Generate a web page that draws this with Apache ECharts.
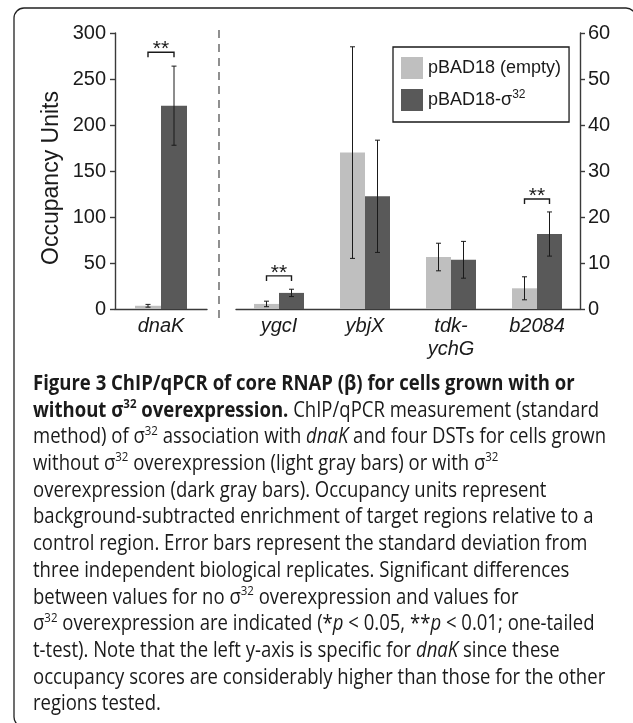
<!DOCTYPE html>
<html><head><meta charset="utf-8">
<script src="https://cdn.jsdelivr.net/npm/echarts@6/dist/echarts.min.js"></script>
<style>html,body{margin:0;padding:0;background:#fff}#c{width:633px;height:723px}</style>
</head><body><div id="c"></div>
<script>
// ---------- data ----------
const leftCategories = ['dnaK'];
const rightCategories = ['ygcI', 'ybjX', 'tdk-\nychG', 'b2084'];
const seriesNames = ['pBAD18 (empty)', 'pBAD18-σ32'];
const emptyLeft = [3.5];
const emptyLeftErr = [1.5];
const sigmaLeft = [221];
const sigmaLeftErr = [43];
const emptyRight = [1.1, 34, 11.3, 4.5];
const emptyRightErr = [0.6, 23, 3, 2.5];
const sigmaRight = [3.5, 24.5, 10.7, 16.3];
const sigmaRightErr = [0.8, 12.2, 4, 4.8];
const leftTicks = [0, 50, 100, 150, 200, 250, 300];
const rightTicks = [0, 10, 20, 30, 40, 50, 60];
const sigLeft = [[0, 279, '**']];
const sigRight = [[0, 7.2, '**'], [3, 23.9, '**']];
const captionLines = [
  '{b|Figure 3 ChIP/qPCR of core RNAP (β) for cells grown with or}',
  '{b|without σ}{bs|32}{b| overexpression.} ChIP/qPCR measurement (standard',
  'method) of σ{s|32} association with {i|dnaK} and four DSTs for cells grown',
  'without σ{s|32} overexpression (light gray bars) or with σ{s|32}',
  'overexpression (dark gray bars). Occupancy units represent',
  'background-subtracted enrichment of target regions relative to a',
  'control region. Error bars represent the standard deviation from',
  'three independent biological replicates. Significant differences',
  'between values for no σ{s|32} overexpression and values for',
  'σ{s|32} overexpression are indicated (*{i|p} < 0.05, **{i|p} < 0.01; one-tailed',
  't-test). Note that the left y-axis is specific for {i|dnaK} since these',
  'occupancy scores are considerably higher than those for the other',
  'regions tested.'
];

// ---------- styling ----------
const LIGHT = '#bfbfbf', DARK = '#595959', INK = '#1a1a1a', AXIS = '#3a3a3a';
const AX_FONT = '"Liberation Sans", Arial, sans-serif';
const CAP_FONT = '"Open Sans", "Noto Sans", sans-serif';
const CAP_SIZE = 21, SUP_SIZE = 13;
const BW_L = 26, BW_R = 25;

const chart = echarts.init(document.getElementById('c'), null, {renderer: 'canvas'});

function errRender(offset) {
  return function (params, api) {
    const x = api.value(0), v = api.value(1), e = api.value(2);
    const t = api.coord([x, v + e]), b = api.coord([x, v - e]);
    const cx = t[0] + offset, cap = 2.5;
    const st = {stroke: INK, lineWidth: 1};
    return {type: 'group', children: [
      {type: 'line', shape: {x1: cx, y1: t[1], x2: cx, y2: b[1]}, style: st},
      {type: 'line', shape: {x1: cx - cap, y1: t[1], x2: cx + cap, y2: t[1]}, style: st},
      {type: 'line', shape: {x1: cx - cap, y1: b[1], x2: cx + cap, y2: b[1]}, style: st}
    ]};
  };
}
function sigRender(arr, half) {
  return function (params, api) {
    const p = api.coord([api.value(0), api.value(1)]);
    const x0 = p[0] - half, x1 = p[0] + half, y = p[1];
    return {type: 'group', children: [
      {type: 'polyline', shape: {points: [[x0, y + 5], [x0, y], [x1, y], [x1, y + 5]]},
        style: {stroke: INK, lineWidth: 1.4, fill: 'none'}},
      {type: 'text', style: {text: arr[params.dataIndex][2], x: p[0], y: y - 3, align: 'center',
        verticalAlign: 'middle', fontSize: 21, fontFamily: AX_FONT, fill: INK}}
    ]};
  };
}

// caption measurement (one uniform horizontal condensing factor for all lines)
const ctx = document.createElement('canvas').getContext('2d');
const tokStyles = {
  n: ['normal', 'normal', CAP_SIZE], b: ['normal', 'bold', CAP_SIZE], i: ['italic', 'normal', CAP_SIZE],
  s: ['normal', 'normal', SUP_SIZE], bs: ['normal', 'bold', SUP_SIZE]
};
function parseLine(line) {
  const re = /\{(\w+)\|([^}]*)\}/g; const out = []; let last = 0, m;
  while ((m = re.exec(line))) {
    if (m.index > last) out.push(['n', line.slice(last, m.index)]);
    out.push([m[1], m[2]]); last = re.lastIndex;
  }
  if (last < line.length) out.push(['n', line.slice(last)]);
  return out;
}
function measure(line) {
  let w = 0;
  parseLine(line).forEach(([k, t]) => {
    const s = tokStyles[k];
    ctx.font = s[0] + ' ' + s[1] + ' ' + s[2] + 'px ' + CAP_FONT;
    w += ctx.measureText(t).width;
  });
  return w;
}
const CAP_X = 33, CAP_Y0 = 384, CAP_STEP = 26.7, CAP_REF_RIGHT = 606;
const capScale = (CAP_REF_RIGHT - CAP_X) / measure(captionLines[2]);
const richCap = {
  b: {fontWeight: 'bold', fontSize: CAP_SIZE, fontFamily: CAP_FONT, fill: INK, lineHeight: 26},
  i: {fontStyle: 'italic', fontSize: CAP_SIZE, fontFamily: CAP_FONT, fill: INK, lineHeight: 26},
  s: {fontSize: SUP_SIZE, fontFamily: CAP_FONT, fill: INK, lineHeight: 13, verticalAlign: 'top'},
  bs: {fontSize: SUP_SIZE, fontWeight: 'bold', fontFamily: CAP_FONT, fill: INK, lineHeight: 13, verticalAlign: 'top'}
};
const captionGraphics = captionLines.map((txt, i) => ({
  type: 'text', x: CAP_X, y: CAP_Y0 + i * CAP_STEP, scaleX: capScale,
  style: {text: txt, x: 0, y: 0, verticalAlign: 'middle', fontSize: CAP_SIZE, fontFamily: CAP_FONT,
    fill: INK, lineHeight: 26, rich: richCap}
}));

const axisLine = {lineStyle: {color: AXIS, width: 1.4}};
const axisTick = {length: 5, lineStyle: {color: AXIS, width: 1.4}};
const yLabel = {fontSize: 20, fontFamily: AX_FONT, color: INK};
const xLabel = {fontSize: 20, fontFamily: AX_FONT, fontStyle: 'italic', color: INK, lineHeight: 23, margin: 6};

const option = {
  animation: false,
  backgroundColor: '#fff',
  grid: [
    {left: 115, top: 33, width: 92, height: 276, outerBoundsMode: 'none'},
    {left: 236, top: 33, width: 344, height: 276, outerBoundsMode: 'none'}
  ],
  xAxis: [
    {type: 'category', gridIndex: 0, data: leftCategories, axisLine, axisTick, axisLabel: xLabel, splitLine: {show: false}},
    {type: 'category', gridIndex: 1, data: rightCategories, axisLine, axisTick, axisLabel: xLabel, splitLine: {show: false}}
  ],
  yAxis: [
    {type: 'value', gridIndex: 0, position: 'left', min: leftTicks[0], max: leftTicks[leftTicks.length - 1],
      interval: leftTicks[1] - leftTicks[0], axisLine: Object.assign({show: true}, axisLine),
      axisTick: Object.assign({show: true}, axisTick), axisLabel: Object.assign({margin: 9}, yLabel),
      splitLine: {show: false},
      name: 'Occupancy Units', nameLocation: 'middle', nameGap: 52,
      nameTextStyle: {fontSize: 23, fontFamily: AX_FONT, color: INK, padding: [0, 14, 0, 0]}},
    {type: 'value', gridIndex: 1, position: 'right', min: rightTicks[0], max: rightTicks[rightTicks.length - 1],
      interval: rightTicks[1] - rightTicks[0], axisLine: Object.assign({show: true}, axisLine),
      axisTick: Object.assign({show: true}, axisTick), axisLabel: Object.assign({margin: 8}, yLabel),
      splitLine: {show: false}}
  ],
  legend: {
    data: seriesNames, orient: 'vertical', left: 393, top: 47,
    itemWidth: 22, itemHeight: 22, itemGap: 10, padding: [10, 8, 11, 8],
    borderColor: INK, borderWidth: 1.3, icon: 'rect', selectedMode: false,
    formatter: n => n === 'pBAD18-σ32' ? 'pBAD18-σ{sup|32}' : n,
    textStyle: {fontSize: 18, fontFamily: AX_FONT, color: INK, lineHeight: 22,
      rich: {sup: {fontSize: 12, fontFamily: AX_FONT, color: INK, lineHeight: 12, verticalAlign: 'top'}}}
  },
  series: [
    {type: 'bar', name: seriesNames[0], xAxisIndex: 0, yAxisIndex: 0, data: emptyLeft, barWidth: BW_L, barGap: '0%', itemStyle: {color: LIGHT}},
    {type: 'bar', name: seriesNames[1], xAxisIndex: 0, yAxisIndex: 0, data: sigmaLeft, barWidth: BW_L, barGap: '0%', itemStyle: {color: DARK}},
    {type: 'bar', name: seriesNames[0], xAxisIndex: 1, yAxisIndex: 1, data: emptyRight, barWidth: BW_R, barGap: '0%', itemStyle: {color: LIGHT}},
    {type: 'bar', name: seriesNames[1], xAxisIndex: 1, yAxisIndex: 1, data: sigmaRight, barWidth: BW_R, barGap: '0%', itemStyle: {color: DARK}},
    {type: 'custom', name: 'errL0', xAxisIndex: 0, yAxisIndex: 0, z: 5, renderItem: errRender(-BW_L / 2),
      encode: {x: 0, y: 1}, data: emptyLeft.map((v, i) => [i, v, emptyLeftErr[i]])},
    {type: 'custom', name: 'errL1', xAxisIndex: 0, yAxisIndex: 0, z: 5, renderItem: errRender(BW_L / 2),
      encode: {x: 0, y: 1}, data: sigmaLeft.map((v, i) => [i, v, sigmaLeftErr[i]])},
    {type: 'custom', name: 'errR0', xAxisIndex: 1, yAxisIndex: 1, z: 5, renderItem: errRender(-BW_R / 2),
      encode: {x: 0, y: 1}, data: emptyRight.map((v, i) => [i, v, emptyRightErr[i]])},
    {type: 'custom', name: 'errR1', xAxisIndex: 1, yAxisIndex: 1, z: 5, renderItem: errRender(BW_R / 2),
      encode: {x: 0, y: 1}, data: sigmaRight.map((v, i) => [i, v, sigmaRightErr[i]])},
    {type: 'custom', name: 'sigL', xAxisIndex: 0, yAxisIndex: 0, z: 5, renderItem: sigRender(sigLeft, BW_L / 2),
      encode: {x: 0, y: 1}, data: sigLeft.map(d => [d[0], d[1]])},
    {type: 'custom', name: 'sigR', xAxisIndex: 1, yAxisIndex: 1, z: 5, renderItem: sigRender(sigRight, BW_R / 2),
      encode: {x: 0, y: 1}, data: sigRight.map(d => [d[0], d[1]])}
  ],
  graphic: [
    {type: 'rect', shape: {x: 14, y: 8, width: 622, height: 719, r: 10}, style: {fill: 'none', stroke: '#222', lineWidth: 1.3}, z: -1},
    {type: 'line', shape: {x1: 219, y1: 30, x2: 219, y2: 320}, style: {stroke: '#555', lineWidth: 1.3, lineDash: [8, 6]}}
  ].concat(captionGraphics)
};
chart.setOption(option);
</script></body></html>
